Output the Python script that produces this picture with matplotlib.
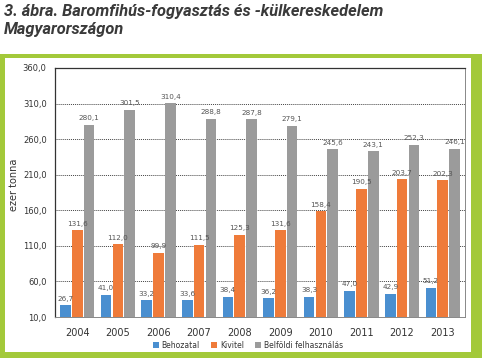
import matplotlib
matplotlib.use("Agg")
import matplotlib.pyplot as plt
from matplotlib.patches import Rectangle
import numpy as np

years = ["2004", "2005", "2006", "2007", "2008", "2009", "2010", "2011", "2012", "2013"]
behozatal = [26.7, 41.0, 33.2, 33.6, 38.4, 36.2, 38.3, 47.0, 42.9, 51.2]
kivitel = [131.6, 112.0, 99.9, 111.5, 125.3, 131.6, 158.4, 190.5, 203.7, 202.3]
belfoldi = [280.1, 301.5, 310.4, 288.8, 287.8, 279.1, 245.6, 243.1, 252.3, 246.1]
series_names = ["Behozatal", "Kivitel", "Belföldi felhasználás"]
yticks = [10, 60, 110, 160, 210, 260, 310, 360]

W, H = 482, 358
fig = plt.figure(figsize=(W / 100, H / 100), dpi=100)
fig.patch.set_facecolor("white")

def px(x0, y0, x1, y1):
    return [x0 / W, (H - y1) / H, (x1 - x0) / W, (y1 - y0) / H]

# green frame
g = px(0, 54, 482, 358)
fig.patches.append(Rectangle((g[0], g[1]), g[2], g[3], transform=fig.transFigure,
                             facecolor="#a3c93a", edgecolor="none", zorder=-2))
w = px(5, 58, 471, 352)
fig.patches.append(Rectangle((w[0], w[1]), w[2], w[3], transform=fig.transFigure,
                             facecolor="white", edgecolor="none", zorder=-1))

fig.text(4 / W, 1 - 4 / H, "3. ábra. Baromfihús-fogyasztás és -külkereskedelem\nMagyarországon",
         ha="left", va="top", fontsize=11.8, fontweight="bold", fontstyle="italic",
         color="#3a3a3a", family="Roboto", linespacing=1.25)

ax = fig.add_axes(px(55, 68, 465, 317))
ax.set_zorder(2)
ax.set_facecolor("white")
x = np.arange(len(years))
bw = 0.26
off = 0.29
colors = ["#4a8fd0", "#ef7b3a", "#9b9b9b"]
data = [behozatal, kivitel, belfoldi]
for i, (vals, c, name) in enumerate(zip(data, colors, series_names)):
    pos = x + (i - 1) * off
    ax.bar(pos, np.array(vals) - 10, bottom=10, width=bw, color=c, label=name, zorder=3)
    for p, v in zip(pos, vals):
        ax.text(p, v + 5, f"{v:.1f}".replace(".", ","), ha="center", va="bottom",
                fontsize=5.2, color="#555555", zorder=4)

ax.set_ylim(10, 360)
ax.set_xlim(-0.55, 9.55)
ax.set_yticks(yticks)
ax.set_yticklabels([f"{v:.1f}".replace(".", ",") for v in yticks], fontsize=6.0, color="#333333")
ax.set_xticks(x)
ax.set_xticklabels(years, fontsize=7, color="#333333")
ax.tick_params(axis="both", length=0, pad=6)
ax.tick_params(axis="x", pad=8)
ax.yaxis.grid(True, linestyle=(0, (1, 1)), color="#444444", linewidth=0.7, zorder=0)
ax.set_axisbelow(True)
for s in ["top", "left"]:
    ax.spines[s].set_color("#333333")
    ax.spines[s].set_linewidth(0.9)
ax.spines["right"].set_color("#888888")
ax.spines["right"].set_linewidth(0.7)
ax.spines["bottom"].set_color("#888888")
ax.spines["bottom"].set_linewidth(0.7)
ax.set_ylabel("ezer tonna", fontsize=7, color="#333333")
ax.yaxis.set_label_coords(-0.1, 0.53)
ax.yaxis.label.set_va("center")

leg = fig.legend(loc="center", bbox_to_anchor=(248 / W, 1 - 345 / H), ncol=3, frameon=False,
                 fontsize=5.5, handlelength=0.7, handleheight=0.7, handletextpad=0.4,
                 columnspacing=1.5, labelcolor="#333333")
leg.set_zorder(3)

fig.savefig("out.png", dpi=100)
